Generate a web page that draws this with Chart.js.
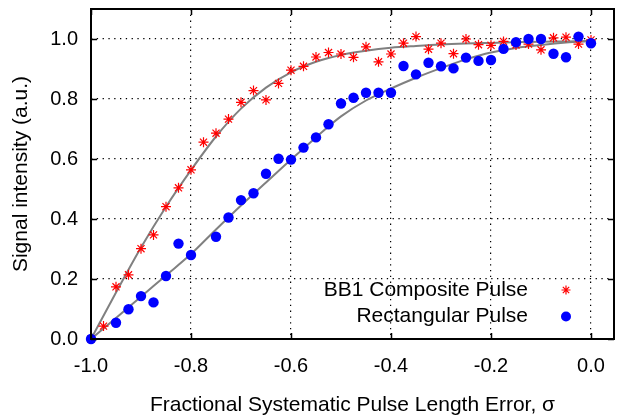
<!DOCTYPE html>
<html>
<head>
<meta charset="utf-8">
<script src="https://cdn.jsdelivr.net/npm/chart.js@4/dist/chart.umd.min.js"></script>
<style>
  html, body { margin: 0; padding: 0; background: #ffffff; }
  #wrap { width: 621px; height: 418px; }
</style>
</head>
<body>
<div id="wrap"><canvas id="c" width="621" height="418"></canvas></div>
<script>
// ---------- data ----------
const sigma = [-1.0, -0.975, -0.95, -0.925, -0.9, -0.875, -0.85, -0.825, -0.8, -0.775,
  -0.75, -0.725, -0.7, -0.675, -0.65, -0.625, -0.6, -0.575, -0.55, -0.525,
  -0.5, -0.475, -0.45, -0.425, -0.4, -0.375, -0.35, -0.325, -0.3, -0.275,
  -0.25, -0.225, -0.2, -0.175, -0.15, -0.125, -0.1, -0.075, -0.05, -0.025, 0.0];

const bb1Signal = [0.0, 0.043, 0.174, 0.214, 0.301, 0.347, 0.441, 0.504, 0.564, 0.656,
  0.686, 0.733, 0.789, 0.828, 0.797, 0.852, 0.896, 0.909, 0.94, 0.955,
  0.95, 0.939, 0.974, 0.924, 0.95, 0.986, 1.008, 0.966, 0.986, 0.951,
  1.0, 0.981, 0.979, 0.992, 0.98, 0.983, 0.964, 1.004, 1.006, 0.983, 0.997];

const rectSignal = [0.0, null, 0.054, 0.099, 0.143, 0.122, 0.21, 0.318, 0.28, null,
  0.341, 0.405, 0.463, 0.486, 0.551, 0.601, 0.598, 0.638, 0.672, 0.716,
  0.785, 0.804, 0.821, 0.821, 0.821, 0.91, 0.882, 0.921, 0.909, 0.902,
  0.938, 0.927, 0.93, 0.967, 0.989, 1.0, 1.0, 0.951, 0.939, 1.008, 0.986];

const fitSigma = [-1.0, -0.95, -0.9, -0.85, -0.8, -0.75, -0.7, -0.65, -0.6, -0.55,
  -0.5, -0.45, -0.4, -0.35, -0.3, -0.25, -0.2, -0.15, -0.1, -0.05, 0.0];
const bb1Fit = [0.0, 0.155, 0.305, 0.441, 0.563, 0.675, 0.768, 0.838, 0.889, 0.924,
  0.947, 0.961, 0.971, 0.977, 0.982, 0.985, 0.987, 0.989, 0.991, 0.992, 0.993];
const rectFit = [0.0, 0.07, 0.141, 0.212, 0.283, 0.365, 0.445, 0.522, 0.598, 0.672,
  0.742, 0.795, 0.835, 0.871, 0.903, 0.932, 0.955, 0.97, 0.98, 0.988, 0.993];

const xTicks = [-1.0, -0.8, -0.6, -0.4, -0.2, 0.0];
const yTicks = [0.0, 0.2, 0.4, 0.6, 0.8, 1.0];
const seriesNames = ['BB1 Composite Pulse', 'Rectangular Pulse'];
const xTitle = 'Fractional Systematic Pulse Length Error, \u03C3';
const yTitle = 'Signal intensity (a.u.)';

// ---------- helpers ----------
const toPts = (xs, ys) => xs.map((x, i) => ({ x: x, y: ys[i] })).filter(p => p.y !== null);
const FONT = '"Liberation Sans", Arial, Helvetica, sans-serif';

function drawFrame(chart) {
  const ctx = chart.ctx;
  const a = chart.chartArea;
  const sx = chart.scales.x, sy = chart.scales.y;
  ctx.save();
  ctx.strokeStyle = '#000000';
  ctx.lineWidth = 1.5;
  ctx.setLineDash([]);
  const tl = 6;
  ctx.beginPath();
  xTicks.forEach(v => {
    const px = Math.round(sx.getPixelForValue(v)) + 0.5;
    ctx.moveTo(px, a.bottom); ctx.lineTo(px, a.bottom - tl);
    ctx.moveTo(px, a.top); ctx.lineTo(px, a.top + tl);
  });
  yTicks.forEach(v => {
    const py = Math.round(sy.getPixelForValue(v)) + 0.5;
    ctx.moveTo(a.left, py); ctx.lineTo(a.left + tl, py);
    ctx.moveTo(a.right, py); ctx.lineTo(a.right - tl, py);
  });
  ctx.stroke();
  ctx.lineWidth = 2;
  ctx.beginPath();
  ctx.rect(a.left, a.top, a.right - a.left, a.bottom - a.top);
  ctx.stroke();
  ctx.restore();
}

function drawLegend(chart) {
  const ctx = chart.ctx;
  const rows = [
    { text: seriesNames[0], y: 290, ds: 0 },
    { text: seriesNames[1], y: 316.5, ds: 1 }
  ];
  ctx.save();
  ctx.setLineDash([]);
  ctx.font = '21px ' + FONT;
  ctx.textAlign = 'right';
  ctx.textBaseline = 'middle';
  rows.forEach(r => {
    ctx.fillStyle = '#000000';
    ctx.fillText(r.text, 528, r.y);
    const d = chart.data.datasets[r.ds];
    const opts = {
      pointStyle: d.pointStyle, radius: r.ds === 0 ? 4.5 : 5,
      borderWidth: d.pointBorderWidth, rotation: 0
    };
    ctx.strokeStyle = d.pointBorderColor;
    ctx.fillStyle = d.pointBackgroundColor;
    ctx.lineWidth = d.pointBorderWidth;
    Chart.helpers.drawPoint(ctx, opts, 566, r.y);
  });
  ctx.restore();
}

const frameLegendPlugin = {
  id: 'frameLegend',
  afterDraw(chart) {
    try { drawFrame(chart); } catch (e) { chart.ctx.fillText('ERR frame ' + e.message, 100, 100); }
    try { drawLegend(chart); } catch (e) { chart.ctx.fillText('ERR legend ' + e.message, 100, 120); }
  }
};

new Chart(document.getElementById('c'), {
  type: 'scatter',
  data: {
    datasets: [
      {
        label: seriesNames[0],
        data: toPts(sigma, bb1Signal),
        showLine: false,
        pointStyle: 'star',
        pointRadius: 5,
        pointBorderWidth: 1.2,
        pointBorderColor: '#ff0000',
        pointBackgroundColor: '#ff0000',
        clip: false,
        order: 2
      },
      {
        label: seriesNames[1],
        data: toPts(sigma, rectSignal),
        showLine: false,
        pointStyle: 'circle',
        pointRadius: 5.2,
        pointBorderWidth: 0,
        pointBorderColor: '#0000ff',
        pointBackgroundColor: '#0000ff',
        clip: false,
        order: 1
      },
      {
        label: 'bb1fit',
        data: toPts(fitSigma, bb1Fit),
        showLine: true,
        pointRadius: 0,
        borderColor: '#808080',
        borderWidth: 2,
        cubicInterpolationMode: 'monotone',
        order: 3
      },
      {
        label: 'rectfit',
        data: toPts(fitSigma, rectFit),
        showLine: true,
        pointRadius: 0,
        borderColor: '#808080',
        borderWidth: 2,
        cubicInterpolationMode: 'monotone',
        order: 3
      }
    ]
  },
  options: {
    responsive: false,
    animation: false,
    devicePixelRatio: 1,
    layout: { padding: { left: 0, right: 7, top: 9, bottom: 0 } },
    plugins: { legend: { display: false }, tooltip: { enabled: false } },
    scales: {
      x: {
        type: 'linear',
        min: -1.0,
        max: 0.046,
        afterBuildTicks: s => { s.ticks = xTicks.map(v => ({ value: v })); },
        afterFit: s => { s.height = 79; s.paddingLeft = 0; s.paddingRight = 0; },
        grid: { color: '#000', lineWidth: 1.2, drawTicks: false },
        border: { display: false, dash: [1.3, 4.5] },
        ticks: {
          color: '#000', padding: 15,
          font: { family: FONT, size: 20 },
          callback: v => Number(v).toFixed(1)
        },
        title: {
          display: true, text: xTitle, color: '#000',
          font: { family: FONT, size: 21 },
          padding: { top: 0, bottom: 0 }
        }
      },
      y: {
        type: 'linear',
        min: 0,
        max: 1.1,
        afterBuildTicks: s => { s.ticks = yTicks.map(v => ({ value: v })); },
        afterFit: s => { s.width = 91; s.paddingTop = 0; s.paddingBottom = 0; },
        grid: { color: '#000', lineWidth: 1.2, drawTicks: false },
        border: { display: false, dash: [1.3, 4.5] },
        ticks: {
          color: '#000', padding: 13,
          font: { family: FONT, size: 20 },
          callback: v => Number(v).toFixed(1)
        },
        title: {
          display: true, text: yTitle, color: '#000',
          font: { family: FONT, size: 21 },
          padding: { top: 9, bottom: 0 }
        }
      }
    }
  },
  plugins: [frameLegendPlugin]
});
</script>
</body>
</html>
